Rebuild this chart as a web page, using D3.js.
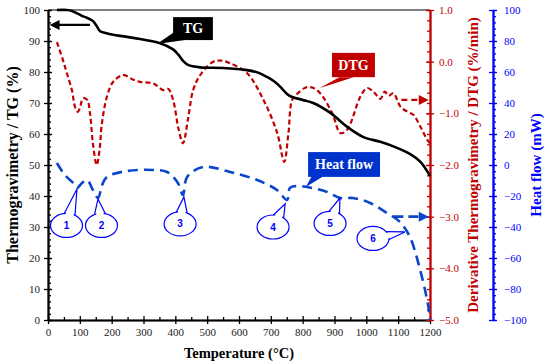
<!DOCTYPE html>
<html>
<head>
<meta charset="utf-8">
<script src="https://d3js.org/d3.v7.min.js"></script>
<style>
  body { margin: 0; background: #fff; }
  svg text { font-family: "Liberation Serif", "Times New Roman", serif; }
  svg text.num { font-family: "Liberation Sans", Arial, sans-serif; }
</style>
</head>
<body>
<svg id="chart" width="550" height="364"></svg>
<script>
// TG (%) vs temperature
const tgTemp  = [28, 60, 75, 90, 105, 122, 140, 152, 163, 180, 200, 268, 352, 393, 410, 425, 440, 478, 550, 625, 660, 688, 710, 730, 750, 765, 800, 833, 887, 940, 991, 1044, 1085, 1138, 1170, 1200]
const tgValue = [100, 100, 99.7, 99, 98.2, 97.5, 96.5, 95, 93.2, 92.6, 92.1, 91, 89.3, 87.3, 85.5, 83.5, 82.3, 81.5, 81.3, 80.6, 79.8, 78.4, 77, 75.2, 73, 72, 71, 70, 66.8, 62.3, 59, 57.5, 56, 53.5, 51, 46.5]

// DTG (%/min)
const dtgTemp  = [28, 47, 59, 75, 85, 94, 102, 110, 123, 132, 141, 153, 163, 168, 185, 205, 237, 268, 289, 330, 362, 378, 393, 410, 424, 440, 456, 478, 519, 545, 572, 625, 677, 720, 742, 755, 767, 783, 810, 830, 855, 893, 918, 935, 950, 981, 1003, 1025, 1044, 1058, 1070, 1085, 1107, 1129, 1148, 1170, 1192, 1200]
const dtgValue = [0.38, 0.03, -0.22, -0.55, -0.88, -0.97, -0.85, -0.71, -0.74, -1.0, -1.58, -2.0, -1.65, -1.26, -0.68, -0.39, -0.26, -0.35, -0.39, -0.42, -0.55, -0.53, -0.74, -1.3, -1.58, -1.1, -0.55, -0.26, 0.0, 0.02, -0.03, -0.22, -0.74, -1.38, -1.94, -1.4, -0.74, -0.62, -0.5, -0.5, -0.61, -1.0, -1.38, -1.35, -1.2, -0.68, -0.51, -0.6, -0.72, -0.58, -0.66, -0.61, -0.87, -0.97, -1.03, -1.26, -1.52, -1.58]

// Heat flow (mW)
const hfTemp  = [28, 53, 79, 91, 107, 123, 141, 157, 170, 185, 248, 330, 374, 408, 424, 437, 487, 572, 657, 719, 751, 760, 782, 814, 877, 917, 958, 1012, 1065, 1106, 1137, 1169, 1194, 1200]
const hfValue = [1.3, -6.5, -11.6, -14.8, -11.6, -9.7, -16.1, -21.3, -12.9, -7.7, -3.9, -3.2, -4.5, -11.6, -19.4, -7.7, -1.3, -4.5, -9.7, -16.1, -22.6, -14.8, -13.5, -14.2, -17.4, -21.3, -21.3, -24.5, -31, -36.8, -46.5, -67.7, -90.3, -100]

// ticks
const xTicks = d3.range(0, 1201, 100)
const tgTicks = d3.range(0, 101, 10)
const dtgTicks = [1, 0, -1, -2, -3, -4, -5]
const hfTicks = d3.range(-100, 101, 20)

// heat flow event labels: label, centre (T, mW), tip (T, mW)
const eventLabels = ['1', '2', '3', '4', '5', '6']
const eventCentre = [[58, -39], [168, -39], [415, -38], [707, -40], [886, -37.7], [1021, -47.4]]
const eventTip    = [[91, -15.5], [157, -22], [427, -20.6], [745, -25], [917, -21.3], [1121, -43.2]]

const svg = d3.select('#chart')
const x = d3.scaleLinear().domain([0, 1200]).range([48, 430])
const yTG = d3.scaleLinear().domain([0, 100]).range([320, 10])
const yDTG = d3.scaleLinear().domain([-5, 1]).range([320, 10])
const yHF = d3.scaleLinear().domain([-100, 100]).range([320, 10])

const red = '#c00000'
const blue = '#0000ff'
const hfBlue = '#0a45cc'

// top frame line
svg.append('line')
  .attr('x1', x(0)).attr('x2', x(1200))
  .attr('y1', yTG(100)).attr('y2', yTG(100))
  .attr('stroke', '#000').attr('stroke-width', 1.2)

function addAxis(gen, tx, ty, color, textColor) {
  const g = svg.append('g').attr('transform', `translate(${tx},${ty})`).call(gen)
  g.attr('font-family', null)
  g.selectAll('path').attr('stroke', color).attr('stroke-width', 1.6)
  g.selectAll('line').attr('stroke', color).attr('stroke-width', 1.3)
  g.selectAll('text').attr('fill', textColor).attr('font-size', 11)
  return g
}

// x axis
addAxis(d3.axisBottom(x).tickValues(d3.range(50, 1200, 100)).tickSize(-3).tickSizeOuter(0).tickFormat(''), 0, 320, '#000', '#000')
addAxis(d3.axisBottom(x).tickValues(xTicks).tickSize(-4).tickSizeOuter(0).tickFormat(''), 0, 320, '#000', '#000')
addAxis(d3.axisBottom(x).tickValues(xTicks).tickSize(4).tickSizeOuter(0).tickPadding(4).tickFormat(d3.format('d')), 0, 320, '#000', '#222')

// left TG axis
addAxis(d3.axisLeft(yTG).tickValues(d3.range(0, 101, 2)).tickSize(-3).tickSizeOuter(0).tickFormat(''), 48, 0, '#000', '#000')
addAxis(d3.axisLeft(yTG).tickValues(tgTicks).tickSize(-4).tickSizeOuter(0).tickFormat(''), 48, 0, '#000', '#000')
addAxis(d3.axisLeft(yTG).tickValues(tgTicks).tickSize(4).tickSizeOuter(0).tickPadding(4), 48, 0, '#000', '#222')

// right DTG axis
addAxis(d3.axisRight(yDTG).tickValues(d3.range(-50, 11, 2).map(v => v / 10)).tickSize(-3).tickSizeOuter(0).tickFormat(''), 430, 0, red, red)
addAxis(d3.axisRight(yDTG).tickValues(dtgTicks).tickSize(-4).tickSizeOuter(0).tickFormat(''), 430, 0, red, red)
addAxis(d3.axisRight(yDTG).tickValues(dtgTicks).tickSize(4).tickSizeOuter(0).tickPadding(5).tickFormat(d3.format('.1f')), 430, 0, red, red)

// far right heat flow axis
addAxis(d3.axisRight(yHF).tickValues(d3.range(-100, 101, 4)).tickSize(3).tickSizeOuter(0).tickFormat(''), 493, 0, blue, blue)
addAxis(d3.axisRight(yHF).tickValues(hfTicks).tickSize(-4).tickSizeOuter(0).tickFormat(''), 493, 0, blue, blue)
addAxis(d3.axisRight(yHF).tickValues(hfTicks).tickSize(4).tickSizeOuter(0).tickPadding(7).tickFormat(d3.format('d')), 493, 0, blue, blue)

// axis titles
const midY = (yTG(0) + yTG(100)) / 2
svg.append('text')
  .attr('transform', `translate(12,${midY}) rotate(-90)`)
  .attr('text-anchor', 'middle').attr('dominant-baseline', 'central')
  .attr('font-weight', 'bold').attr('font-size', 16).attr('fill', '#000')
  .text('Thermogravimetry / TG (%)')
svg.append('text')
  .attr('transform', `translate(473,${midY}) rotate(-90)`)
  .attr('text-anchor', 'middle').attr('dominant-baseline', 'central')
  .attr('font-weight', 'bold').attr('font-size', 15).attr('fill', red)
  .text('Derivative Thermogravimetry / DTG (%/min)')
svg.append('text')
  .attr('transform', `translate(536,${midY}) rotate(-90)`)
  .attr('text-anchor', 'middle').attr('dominant-baseline', 'central')
  .attr('font-weight', 'bold').attr('font-size', 15).attr('fill', blue)
  .text('Heat flow (mW)')
svg.append('text')
  .attr('x', (x(0) + x(1200)) / 2).attr('y', 353)
  .attr('text-anchor', 'middle').attr('dominant-baseline', 'central')
  .attr('font-weight', 'bold').attr('font-size', 14.5).attr('fill', '#000')
  .text('Temperature (°C)')

// curves
const curve = d3.curveCatmullRom.alpha(0.5)

svg.append('path')
  .datum(d3.zip(hfTemp, hfValue))
  .attr('d', d3.line().curve(curve).x(d => x(d[0])).y(d => yHF(d[1])))
  .attr('fill', 'none').attr('stroke', hfBlue).attr('stroke-width', 2.6)
  .attr('stroke-dasharray', '10,6')

svg.append('path')
  .datum(d3.zip(dtgTemp, dtgValue))
  .attr('d', d3.line().curve(curve).x(d => x(d[0])).y(d => yDTG(d[1])))
  .attr('fill', 'none').attr('stroke', red).attr('stroke-width', 2.2)
  .attr('stroke-dasharray', '5,3')

svg.append('path')
  .datum(d3.zip(tgTemp, tgValue))
  .attr('d', d3.line().curve(curve).x(d => x(d[0])).y(d => yTG(d[1])))
  .attr('fill', 'none').attr('stroke', '#000').attr('stroke-width', 2.6)

// axis pointing arrows
function arrow(x1, x2, y, color, dash, width) {
  const dir = Math.sign(x2 - x1)
  svg.append('line')
    .attr('x1', x1).attr('x2', x2 - dir * 8).attr('y1', y).attr('y2', y)
    .attr('stroke', color).attr('stroke-width', width)
    .attr('stroke-dasharray', dash)
  svg.append('path')
    .attr('d', `M${x2},${y}L${x2 - dir * 10},${y - 5}L${x2 - dir * 10},${y + 5}Z`)
    .attr('fill', color)
}
arrow(x(132), x(5), yTG(95.2), '#000', null, 2.4)
arrow(x(1110), x(1196), yDTG(-0.74), red, '6,4', 2.4)
arrow(x(1085), x(1196), yDTG(-3.0), hfBlue, '10,5', 2.6)

// rectangular callouts
function boxCallout(x0, y0, x1, y1, tail, fill, label, size) {
  svg.append('path')
    .attr('d', `M${tail[0][0]},${tail[0][1]}L${tail[1][0]},${tail[1][1]}L${tail[2][0]},${tail[2][1]}Z`)
    .attr('fill', fill)
  svg.append('rect')
    .attr('x', x0).attr('y', y0).attr('width', x1 - x0).attr('height', y1 - y0)
    .attr('fill', fill)
  svg.append('text')
    .attr('x', (x0 + x1) / 2).attr('y', (y0 + y1) / 2)
    .attr('text-anchor', 'middle').attr('dominant-baseline', 'central')
    .attr('font-weight', 'bold').attr('font-size', size).attr('fill', '#fff')
    .text(label)
}
boxCallout(x(393), yTG(97.7), x(518), yTG(90.3),
  [[x(398), yTG(93)], [x(430), yTG(90.3)], [x(342), yTG(89)]], '#000', 'TG', 14)
boxCallout(x(892), yDTG(0.17), x(1027), yDTG(-0.3),
  [[x(915), yDTG(-0.3)], [x(960), yDTG(-0.3)], [x(854), yDTG(-0.51)]], red, 'DTG', 14)
boxCallout(x(817), yDTG(-1.75), x(1043), yDTG(-2.23),
  [[x(830), yDTG(-2.2)], [x(870), yDTG(-2.2)], [x(810), yHF(-14.2)]], '#0033cc', 'Heat flow', 14)

// numbered ellipse callouts on heat flow
const rx = 16, ry = 12
eventLabels.forEach((lab, i) => {
  const cx = x(eventCentre[i][0]), cy = yHF(eventCentre[i][1])
  const tx = x(eventTip[i][0]), ty = yHF(eventTip[i][1])
  const th = Math.atan2((ty - cy) / ry, (tx - cx) / rx)
  const pt = (a, k) => [cx + k * rx * Math.cos(a), cy + k * ry * Math.sin(a)]
  const b1 = pt(th - 0.35, 1), b2 = pt(th + 0.35, 1)
  const i1 = pt(th - 0.35, 0.8), i2 = pt(th + 0.35, 0.8)
  svg.append('ellipse')
    .attr('cx', cx).attr('cy', cy).attr('rx', rx).attr('ry', ry)
    .attr('fill', '#fff').attr('stroke', blue).attr('stroke-width', 1.2)
  svg.append('path')
    .attr('d', `M${i1}L${tx},${ty}L${i2}Z`)
    .attr('fill', '#fff')
  svg.append('path')
    .attr('d', `M${b1}L${tx},${ty}L${b2}`)
    .attr('fill', 'none').attr('stroke', blue).attr('stroke-width', 1.2)
  svg.append('text')
    .attr('class', 'num')
    .attr('x', cx).attr('y', cy)
    .attr('text-anchor', 'middle').attr('dominant-baseline', 'central')
    .attr('font-weight', 'bold').attr('font-size', 10).attr('fill', blue)
    .text(lab)
})
</script>
</body>
</html>
